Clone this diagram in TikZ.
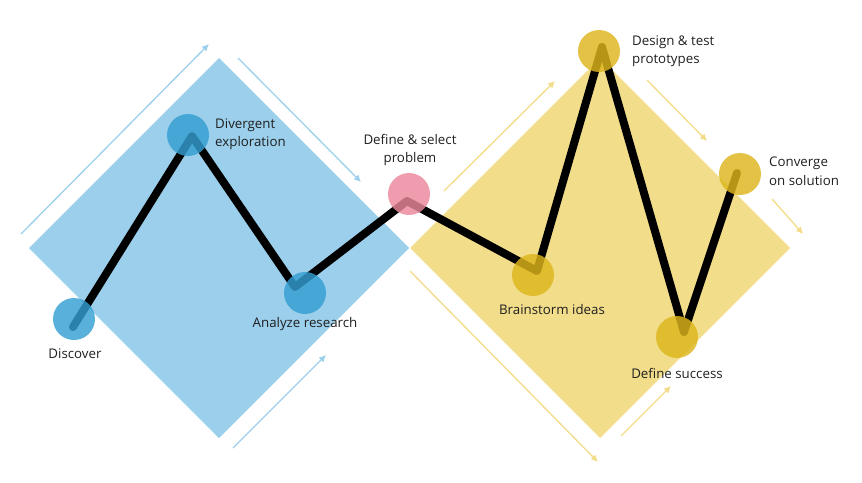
\documentclass[tikz,border=0pt]{standalone}
\usepackage{fontspec}
\setmainfont{Open Sans}
\usetikzlibrary{arrows.meta}
\definecolor{bluediam}{HTML}{9BCFEB}
\definecolor{yeldiam}{HTML}{F2DD8A}
\definecolor{bluearr}{HTML}{9DD0EC}
\definecolor{yelarr}{HTML}{F2DC88}
\definecolor{bluedot}{HTML}{349FD3}
\definecolor{yeldot}{HTML}{DDB51C}
\definecolor{pinkdot}{HTML}{EB889C}
\tikzset{
  dot/.style={circle, minimum size=42pt, inner sep=0pt, fill opacity=0.82},
  bdot/.style={dot, fill=bluedot},
  ydot/.style={dot, fill=yeldot},
  pdot/.style={dot, fill=pinkdot},
  lbl/.style={font=\fontsize{13.3pt}{18.5pt}\selectfont, text=black!88, inner sep=0pt},
  barr/.style={draw=bluearr, line width=1.3pt, -{Latex[length=7pt,width=7pt]}},
  yarr/.style={draw=yelarr, line width=1.3pt, -{Latex[length=7pt,width=7pt]}},
  path/.style={line width=8pt, line join=round, line cap=round, black}
}
\begin{document}
\begin{tikzpicture}[x=1pt,y=-1pt]
\useasboundingbox (0,0) rectangle (862,482);
% diamonds
\fill[bluediam] (29,248) -- (219,58) -- (409,248) -- (219,438) -- cycle;
\fill[yeldiam] (410,248) -- (600,58) -- (790,248) -- (600,438) -- cycle;
% arrows
\coordinate (a1s) at (21,234); \coordinate (a1e) at (209,44);
\coordinate (a2s) at (238,58); \coordinate (a2e) at (361,182);
\coordinate (a3s) at (233,448); \coordinate (a3e) at (326,355);
\coordinate (a4s) at (444,191); \coordinate (a4e) at (555,81);
\coordinate (a5s) at (647,80); \coordinate (a5e) at (707,141);
\coordinate (a6s) at (772,199); \coordinate (a6e) at (803,234);
\coordinate (a7s) at (410,271); \coordinate (a7e) at (598,462);
\coordinate (a8s) at (621,436); \coordinate (a8e) at (671,386);
\draw[barr] (a1s) -- (a1e);
\draw[barr] (a2s) -- (a2e);
\draw[barr] (a3s) -- (a3e);
\draw[yarr] (a4s) -- (a4e);
\draw[yarr] (a5s) -- (a5e);
\draw[yarr] (a6s) -- (a6e);
\draw[yarr] (a7s) -- (a7e);
\draw[yarr] (a8s) -- (a8e);
% path vertices
\coordinate (p1) at (73,327);
\coordinate (p2) at (192,136);
\coordinate (p3) at (295,287);
\coordinate (p4) at (407,201);
\coordinate (p5) at (537,271);
\coordinate (p6) at (602,47);
\coordinate (p7) at (684,332);
\coordinate (p8) at (737,173);
\draw[path] (p1) -- (p2) -- (p3) -- (p4) -- (p5) -- (p6) -- (p7) -- (p8);
% circles
\node[bdot] (discover) at (74,319) {};
\node[bdot] (divergent) at (188,135) {};
\node[bdot] (analyze) at (305,293) {};
\node[pdot] (define) at (409,194) {};
\node[ydot] (brainstorm) at (533,275) {};
\node[ydot] (design) at (599,51) {};
\node[ydot] (converge) at (740,174) {};
\node[ydot] (success) at (677,337) {};
% labels
\node[lbl] (tdiscover) at (75,354) {Discover};
\node[lbl, anchor=west, align=left] (tdivergent) at (215,134) {Divergent\\exploration};
\node[lbl] (tanalyze) at (305,324) {Analyze research};
\node[lbl, align=center] (tdefine) at (410,150) {Define \& select\\problem};
\node[lbl] (tbrainstorm) at (552,310) {Brainstorm ideas};
\node[lbl] (tsuccess) at (677,373) {Define success};
\node[lbl, anchor=west, align=left] (tdesign) at (632,51) {Design \& test\\prototypes};
\node[lbl, anchor=west, align=left] (tconverge) at (769,171) {Converge\\on solution};
\end{tikzpicture}
\end{document}
